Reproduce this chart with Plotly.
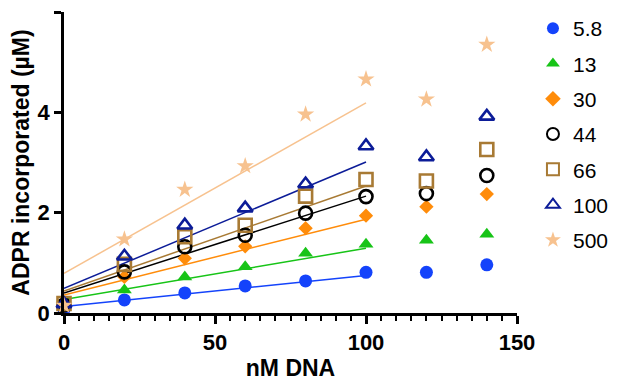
import plotly.graph_objects as go

# ---- data ----
dna_nM = [0, 20, 40, 60, 80, 100, 120, 140]
series_names = ["5.8", "13", "30", "44", "66", "100", "500"]

adpr_5_8 = [0.07, 0.26, 0.40, 0.54, 0.64, 0.81, 0.81, 0.96]
adpr_13 = [0.12, 0.46, 0.72, 0.92, 1.19, 1.37, 1.45, 1.57]
adpr_30 = [0.15, 0.72, 1.09, 1.33, 1.69, 1.94, 2.12, 2.37]
adpr_44 = [0.16, 0.82, 1.32, 1.55, 1.99, 2.32, 2.38, 2.74]
adpr_66 = [0.19, 0.97, 1.52, 1.75, 2.33, 2.66, 2.63, 3.26]
adpr_100 = [0.18, 1.13, 1.75, 2.09, 2.57, 3.33, 3.11, 3.92]
adpr_500 = [0.15, 1.47, 2.46, 2.93, 3.96, 4.66, 4.26, 5.35]

# linear-fit lines drawn over 0..100 nM (endpoints)
fit_x = [0, 100]
fit_5_8 = [0.13, 0.75]
fit_13 = [0.27, 1.29]
fit_30 = [0.36, 1.87]
fit_44 = [0.40, 2.33]
fit_66 = [0.44, 2.53]
fit_100 = [0.49, 3.01]
fit_500 = [0.79, 4.19]

values = [adpr_5_8, adpr_13, adpr_30, adpr_44, adpr_66, adpr_100, adpr_500]
fits = [fit_5_8, fit_13, fit_30, fit_44, fit_66, fit_100, fit_500]

# ---- styles ----
colors = ["#1443fb", "#17c417", "#ff8c0a", "#000000", "#a87a34", "#0c1c98", "#f7c28f"]
symbols = ["circle", "triangle-up", "diamond", "circle-open", "square-open",
           "triangle-up-open", "star"]
sizes = [13, 13, 11, 13, 13, 13, 13]

FONT = "Liberation Sans, Arial, Helvetica, sans-serif"

fig = go.Figure()

# fit lines first (behind markers)
for name, fy, c in zip(series_names, fits, colors):
    fig.add_trace(go.Scatter(
        x=fit_x, y=fy, mode="lines",
        line=dict(color=c, width=1.5),
        showlegend=False, hoverinfo="skip", cliponaxis=False,
    ))

for name, vy, c, s, sz in zip(series_names, values, colors, symbols, sizes):
    marker = dict(color=c, symbol=s, size=sz)
    if s.endswith("open"):
        marker["line"] = dict(color=c, width=2.6)
    fig.add_trace(go.Scatter(
        x=dna_nM, y=vy, mode="markers", name=name,
        marker=marker, cliponaxis=False, legendgroup=name,
    ))

# the page body has an 8px default margin, so the figure is sized to fit
fig.update_layout(
    width=609, height=373,
    margin=dict(l=56, r=100, t=4, b=68),
    paper_bgcolor="white", plot_bgcolor="white",
    font=dict(family=FONT, color="black"),
    legend=dict(
        xref="container", yref="paper",
        x=0.862, xanchor="left", y=0.605, yanchor="middle",
        font=dict(size=21, family=FONT, color="black"),
        tracegroupgap=5, itemsizing="constant",
        bgcolor="rgba(0,0,0,0)",
    ),
    xaxis=dict(
        range=[0, 150], tickvals=[0, 50, 100, 150],
        showgrid=False, zeroline=False,
        showline=True, linecolor="black", linewidth=2.5,
        ticks="outside", ticklen=8, tickwidth=2.5, tickcolor="black",
        minor=dict(dtick=5, ticks="outside", ticklen=5, tickwidth=2, tickcolor="black",
                   showgrid=False),
        tickfont=dict(size=22, family=FONT, weight="bold"),
        title=dict(text="nM DNA", font=dict(size=23, family=FONT, weight="bold"),
                   standoff=10),
        automargin=False,
    ),
    yaxis=dict(
        range=[0, 6], tickvals=[0, 2, 4, 6],
        showgrid=False, zeroline=False,
        showline=True, linecolor="black", linewidth=2.5,
        ticks="outside", ticklen=7, tickwidth=2.5, tickcolor="black",
        tickfont=dict(size=22, family=FONT, weight="bold"),
        title=dict(text="ADPR incorporated (µM)",
                   font=dict(size=23, family=FONT, weight="bold"), standoff=12),
        automargin=False,
    ),
)

fig.write_html("out.html")
